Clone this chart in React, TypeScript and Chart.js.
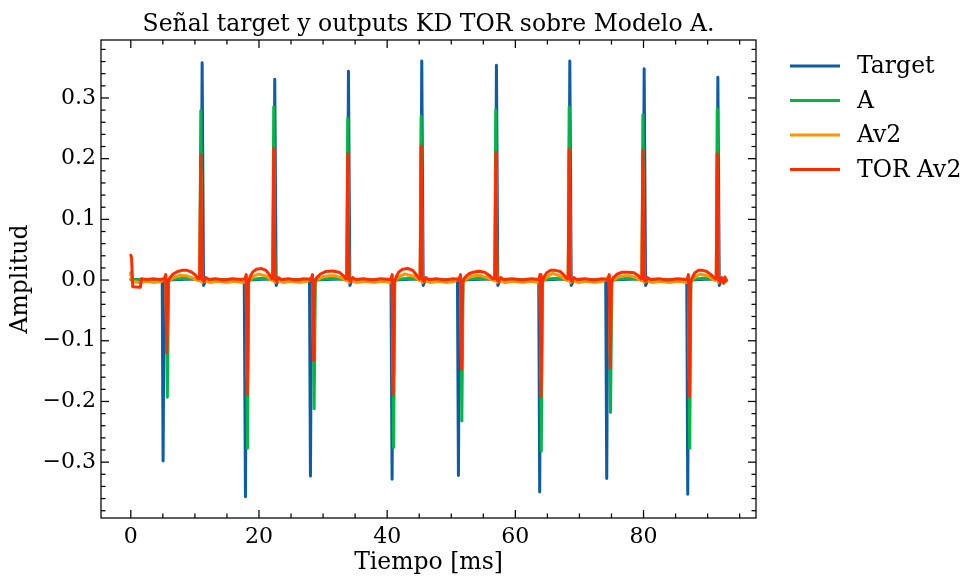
import React, { useEffect, useRef } from 'react';
import { Chart, registerables } from 'chart.js';

Chart.register(...registerables);

const titleText = 'Señal target y outputs KD TOR sobre Modelo A.';
const xTitle = 'Tiempo [ms]';
const yTitle = 'Amplitud';

const seriesLabels = ['Target', 'A', 'Av2', 'TOR Av2'];
const seriesColors = ['#0C5DA5', '#00B945', '#FF9500', '#FF2C00'];

const xMajorTicks = [0, 20, 40, 60, 80];
const yMajorTicks = [-0.3, -0.2, -0.1, 0.0, 0.1, 0.2, 0.3];

// [time ms, amplitude]
const target: [number, number][] = [
  [0, 0.001], [4.9, 0], [5.04, -0.298], [5.2, 0],
  [10.95, 0.002], [11.13, 0.358], [11.35, -0.009], [11.6, -0.002], [12, 0],
  [17.7, 0], [17.89, -0.357], [18.05, 0],
  [22.3, 0.002], [22.46, 0.331], [22.68, -0.009], [22.95, -0.002], [23.3, 0],
  [27.88, 0], [28.03, -0.323], [28.2, 0],
  [33.8, 0.002], [33.96, 0.344], [34.18, -0.009], [34.45, -0.002], [34.8, 0],
  [40.6, 0], [40.77, -0.328], [40.93, 0],
  [45.22, 0.002], [45.4, 0.361], [45.62, -0.009], [45.9, -0.002], [46.2, 0],
  [50.97, 0], [51.12, -0.322], [51.28, 0],
  [56.88, 0.002], [57.05, 0.354], [57.27, -0.009], [57.55, -0.002], [57.9, 0],
  [63.65, 0], [63.8, -0.349], [63.96, 0],
  [68.33, 0.002], [68.5, 0.361], [68.72, -0.009], [69.0, -0.002], [69.3, 0],
  [74.1, 0], [74.26, -0.327], [74.42, 0],
  [79.93, 0.002], [80.1, 0.348], [80.32, -0.009], [80.6, -0.002], [80.9, 0],
  [86.75, 0], [86.9, -0.353], [87.06, 0],
  [91.43, 0.002], [91.6, 0.334], [91.82, -0.009], [92.1, -0.002], [92.9, 0],
];

const modelA: [number, number][] = [
  [0, 0.012], [0.25, 0.001], [5.5, 0.0], [5.7, -0.193], [5.9, -0.002], [6.3, 0.001], [8.4, 0.003], [10.4, 0.001], [10.75, 0.001],
  [10.92, 0.279], [11.12, -0.001], [11.5, 0.0],
  [18.05, 0.0], [18.2, -0.277], [18.4, -0.002], [18.8, 0.001], [20.4, 0.003], [22.0, 0.001], [22.15, 0.001],
  [22.3, 0.285], [22.5, -0.001], [22.9, 0.0],
  [28.45, 0.0], [28.6, -0.212], [28.8, -0.002], [29.2, 0.001], [31.5, 0.003], [33.5, 0.001], [33.7, 0.001],
  [33.85, 0.266], [34.05, -0.001], [34.4, 0.0],
  [40.85, 0.0], [41.0, -0.276], [41.2, -0.002], [41.6, 0.001], [43.2, 0.003], [45.0, 0.001], [45.15, 0.001],
  [45.3, 0.27], [45.5, -0.001], [45.9, 0.0],
  [51.5, 0.0], [51.65, -0.232], [51.85, -0.002], [52.3, 0.001], [54.3, 0.003], [56.6, 0.001], [56.8, 0.001],
  [56.95, 0.28], [57.15, -0.001], [57.5, 0.0],
  [63.9, 0.0], [64.05, -0.282], [64.25, -0.002], [64.6, 0.001], [66.2, 0.003], [68.1, 0.001], [68.25, 0.001],
  [68.4, 0.285], [68.6, -0.001], [69.0, 0.0],
  [74.7, 0.0], [74.85, -0.218], [75.05, -0.002], [75.5, 0.001], [77.6, 0.003], [79.6, 0.001], [79.75, 0.001],
  [79.9, 0.272], [80.1, -0.001], [80.5, 0.0],
  [87.05, 0.0], [87.2, -0.277], [87.4, -0.002], [87.8, 0.001], [89.2, 0.003], [91.2, 0.001], [91.35, 0.001],
  [91.5, 0.282], [91.7, -0.001], [92.9, 0.0],
];

const modelAv2: [number, number][] = [
  [0, 0.01], [0.2, -0.002], [1.2, -0.004], [2.4, -0.002], [3.6, -0.004], [4.8, -0.002],
  [5.45, 0.007], [5.6, -0.1], [5.8, -0.004], [6.2, 0.001], [6.9, 0.005], [7.8, 0.008], [8.7, 0.007], [9.5, 0.004], [10.3, 0.0], [10.75, -0.001],
  [10.92, 0.18], [11.1, -0.004], [11.5, -0.001], [12.4, -0.004], [13.6, -0.002], [14.9, -0.004], [16.2, -0.002], [17.5, -0.004],
  [18.0, 0.007], [18.15, -0.16], [18.35, -0.004], [18.7, 0.002], [19.3, 0.007], [20.0, 0.01], [20.6, 0.008], [21.3, 0.006], [21.9, 0.0], [22.15, -0.001],
  [22.3, 0.19], [22.48, -0.004], [22.9, -0.001], [23.8, -0.004], [25.0, -0.002], [26.3, -0.004], [27.6, -0.002],
  [28.35, 0.007], [28.5, -0.115], [28.7, -0.004], [29.1, 0.001], [29.9, 0.005], [30.9, 0.007], [31.9, 0.007], [32.8, 0.004], [33.5, 0.0], [33.7, -0.001],
  [33.85, 0.18], [34.03, -0.004], [34.4, -0.001], [35.3, -0.004], [36.6, -0.002], [37.9, -0.004], [39.3, -0.002], [40.5, -0.004],
  [40.78, 0.007], [40.93, -0.16], [41.13, -0.004], [41.5, 0.002], [42.1, 0.007], [42.8, 0.01], [43.5, 0.008], [44.2, 0.006], [44.9, 0.0], [45.15, -0.001],
  [45.3, 0.19], [45.48, -0.004], [45.9, -0.001], [46.8, -0.004], [48.0, -0.002], [49.3, -0.004], [50.6, -0.002],
  [51.45, 0.007], [51.6, -0.125], [51.8, -0.004], [52.2, 0.001], [52.9, 0.005], [53.8, 0.008], [54.7, 0.007], [55.6, 0.004], [56.5, 0.0], [56.8, -0.001],
  [56.95, 0.185], [57.13, -0.004], [57.5, -0.001], [58.4, -0.004], [59.7, -0.002], [61.1, -0.004], [62.5, -0.002], [63.6, -0.004],
  [63.85, 0.007], [64.0, -0.165], [64.2, -0.004], [64.6, 0.002], [65.2, 0.007], [65.8, 0.011], [66.4, 0.009], [67.1, 0.006], [67.9, 0.0], [68.25, -0.001],
  [68.4, 0.188], [68.58, -0.004], [69.0, -0.001], [69.9, -0.004], [71.1, -0.002], [72.4, -0.004], [73.7, -0.002],
  [74.65, 0.007], [74.8, -0.125], [75.0, -0.004], [75.4, 0.001], [76.1, 0.005], [77.0, 0.007], [77.9, 0.007], [78.8, 0.004], [79.5, 0.0], [79.75, -0.001],
  [79.9, 0.185], [80.08, -0.004], [80.5, -0.001], [81.4, -0.004], [82.7, -0.002], [84.0, -0.004], [85.4, -0.002], [86.8, -0.004],
  [87.0, 0.007], [87.15, -0.165], [87.35, -0.004], [87.7, 0.002], [88.3, 0.007], [88.9, 0.01], [89.5, 0.008], [90.2, 0.006], [91.0, 0.0], [91.35, -0.001],
  [91.5, 0.182], [91.68, -0.004], [92.0, -0.001], [92.4, -0.005], [92.9, -0.002],
];

const torAv2: [number, number][] = [
  [0, 0.041], [0.12, 0.036], [0.3, -0.011], [1.5, -0.012], [1.65, 0.002], [2.5, 0.001], [3.5, 0.002], [4.5, 0.001], [5.3, 0.002],
  [5.45, 0.009], [5.6, -0.12], [5.8, -0.004], [6.1, 0.004], [6.6, 0.01], [7.3, 0.014], [8.0, 0.016], [8.8, 0.016], [9.5, 0.013], [10.1, 0.008], [10.5, 0.002], [10.75, 0.003],
  [10.92, 0.206], [11.1, 0.002], [11.4, -0.002], [11.7, 0.004], [12.2, 0.001], [13.2, 0.002], [14.5, 0.0], [15.8, 0.002], [17.2, 0.001], [17.9, 0.002],
  [18.0, 0.009], [18.15, -0.188], [18.35, -0.004], [18.6, 0.005], [19.0, 0.013], [19.6, 0.018], [20.4, 0.019], [21.1, 0.016], [21.7, 0.008], [22.05, 0.002], [22.15, 0.003],
  [22.3, 0.217], [22.48, 0.001], [22.75, -0.002], [23.0, 0.004], [23.5, 0.001], [24.6, 0.002], [25.8, 0.0], [27.0, 0.002], [28.2, 0.001],
  [28.35, 0.009], [28.5, -0.133], [28.7, -0.004], [29.0, 0.004], [29.6, 0.01], [30.4, 0.014], [31.5, 0.015], [32.5, 0.013], [33.2, 0.007], [33.55, 0.002], [33.7, 0.003],
  [33.85, 0.208], [34.03, 0.001], [34.3, -0.002], [34.6, 0.004], [35.1, 0.001], [36.3, 0.002], [37.6, 0.0], [39.0, 0.002], [40.6, 0.001],
  [40.78, 0.009], [40.93, -0.188], [41.13, -0.004], [41.4, 0.005], [41.8, 0.013], [42.4, 0.018], [43.2, 0.019], [44.0, 0.016], [44.6, 0.008], [45.0, 0.002], [45.15, 0.003],
  [45.3, 0.221], [45.48, 0.001], [45.75, -0.002], [46.0, 0.004], [46.5, 0.001], [47.7, 0.002], [49.0, 0.0], [50.3, 0.002], [51.3, 0.001],
  [51.45, 0.009], [51.6, -0.147], [51.8, -0.004], [52.1, 0.004], [52.7, 0.01], [53.4, 0.013], [54.3, 0.0145], [55.2, 0.013], [55.9, 0.008], [56.5, 0.002], [56.8, 0.003],
  [56.95, 0.21], [57.13, 0.001], [57.4, -0.002], [57.7, 0.004], [58.2, 0.001], [59.5, 0.002], [61.0, 0.0], [62.5, 0.002], [63.7, 0.001],
  [63.85, 0.009], [64.0, -0.192], [64.2, -0.004], [64.45, 0.005], [64.9, 0.012], [65.5, 0.016], [66.2, 0.016], [67.0, 0.014], [67.6, 0.008], [68.1, 0.002], [68.25, 0.003],
  [68.4, 0.215], [68.58, 0.001], [68.85, -0.002], [69.1, 0.004], [69.6, 0.001], [70.8, 0.002], [72.2, 0.0], [73.5, 0.002], [74.5, 0.001],
  [74.65, 0.009], [74.8, -0.145], [75.0, -0.004], [75.3, 0.004], [75.9, 0.01], [76.7, 0.013], [77.6, 0.013], [78.5, 0.012], [79.2, 0.007], [79.6, 0.002], [79.75, 0.003],
  [79.9, 0.214], [80.08, 0.001], [80.35, -0.002], [80.6, 0.004], [81.1, 0.001], [82.4, 0.002], [83.8, 0.0], [85.3, 0.002], [86.85, 0.001],
  [87.0, 0.009], [87.15, -0.192], [87.35, -0.004], [87.6, 0.004], [88.0, 0.012], [88.6, 0.016], [89.2, 0.016], [89.9, 0.014], [90.6, 0.008], [91.2, 0.002], [91.35, 0.003],
  [91.5, 0.208], [91.68, 0.001], [91.95, -0.003], [92.2, 0.004], [92.5, -0.005], [92.7, 0.005], [92.9, -0.001],
];

const seriesData = [target, modelA, modelAv2, torAv2];

const FONT = '"DejaVu Serif", serif';
const TICK_SIZE = 22;
const TEXT_SIZE = 23.5;

export default function App() {
  const ref = useRef<HTMLCanvasElement>(null);

  useEffect(() => {
    const canvas = ref.current;
    if (!canvas) return;

    const decorPlugin = {
      id: 'decor',
      afterDraw(chart: any) {
        const { ctx, chartArea: a, scales } = chart;
        const xs = scales.x;
        const ys = scales.y;
        ctx.save();
        ctx.strokeStyle = '#000';
        ctx.lineWidth = 1.25;
        const seg = (x1: number, y1: number, x2: number, y2: number) => {
          ctx.beginPath();
          ctx.moveTo(x1, y1);
          ctx.lineTo(x2, y2);
          ctx.stroke();
        };
        const MAJ = 8;
        const MIN = 4.5;
        // x ticks (minor every 5, major every 20)
        for (let v = -5; v <= 100; v += 5) {
          if (v < xs.min || v > xs.max) continue;
          const px = xs.getPixelForValue(v);
          const len = xMajorTicks.includes(v) ? MAJ : MIN;
          seg(px, a.bottom, px, a.bottom - len);
          seg(px, a.top, px, a.top + len);
        }
        // y ticks (minor every 0.02)
        for (let i = -20; i <= 20; i++) {
          const v = i * 0.02;
          if (v < ys.min || v > ys.max) continue;
          const py = ys.getPixelForValue(v);
          const len = i % 5 === 0 ? MAJ : MIN;
          seg(a.left, py, a.left + len, py);
          seg(a.right, py, a.right - len, py);
        }
        // frame
        ctx.strokeRect(a.left, a.top, a.right - a.left, a.bottom - a.top);

        // texts
        ctx.fillStyle = '#000';
        ctx.font = `${TEXT_SIZE}px ${FONT}`;
        ctx.textAlign = 'center';
        ctx.textBaseline = 'alphabetic';
        ctx.fillText(titleText, (a.left + a.right) / 2, 31);
        ctx.fillText(xTitle, (a.left + a.right) / 2, 569);
        ctx.save();
        ctx.translate(27, (a.top + a.bottom) / 2);
        ctx.rotate(-Math.PI / 2);
        ctx.fillText(yTitle, 0, 0);
        ctx.restore();

        // legend
        ctx.textAlign = 'left';
        ctx.textBaseline = 'middle';
        seriesLabels.forEach((lab, i) => {
          const y = 66 + i * 34.5;
          ctx.strokeStyle = seriesColors[i];
          ctx.lineWidth = 3;
          seg(790, y, 840, y);
          ctx.fillStyle = '#000';
          ctx.fillText(lab, 857, y + 1);
        });
        ctx.restore();
      },
    };

    const fmtY = (v: number) => {
      const r = Math.round(v * 10) / 10;
      if (Math.abs(r) < 1e-9) return '0.0';
      return (r < 0 ? '\u2212' : '') + Math.abs(r).toFixed(1);
    };

    const chart = new Chart(canvas, {
      type: 'line',
      data: {
        datasets: seriesData.map((d, i) => ({
          label: seriesLabels[i],
          data: d.map(([x, y]) => ({ x, y })),
          borderColor: seriesColors[i],
          backgroundColor: seriesColors[i],
          borderWidth: 3,
          pointRadius: 0,
          tension: 0,
          fill: false,
          order: 4 - i,
          borderJoinStyle: 'round',
          borderCapStyle: 'round',
        })),
      },
      options: {
        responsive: false,
        animation: false,
        events: [],
        layout: { padding: { left: 0, top: 40, right: 206, bottom: 0 } },
        plugins: {
          legend: { display: false },
          title: { display: false },
          tooltip: { enabled: false },
        },
        scales: {
          x: {
            type: 'linear',
            min: -4.65,
            max: 97.55,
            grid: { display: false, drawTicks: false },
            border: { display: false },
            ticks: {
              stepSize: 20,
              includeBounds: false,
              autoSkip: false,
              maxRotation: 0,
              padding: 6,
              color: '#000',
              font: { family: FONT, size: TICK_SIZE },
              callback: (v: any) => String(v),
            },
            afterFit: (s: any) => {
              s.height = 58;
            },
          },
          y: {
            type: 'linear',
            min: -0.392,
            max: 0.3955,
            grid: { display: false, drawTicks: false },
            border: { display: false },
            ticks: {
              stepSize: 0.1,
              includeBounds: false,
              autoSkip: false,
              padding: 5,
              color: '#000',
              font: { family: FONT, size: TICK_SIZE },
              callback: (v: any) => fmtY(Number(v)),
            },
            afterFit: (s: any) => {
              s.width = 101;
            },
          },
        },
      },
      plugins: [decorPlugin],
    } as any);

    return () => chart.destroy();
  }, []);

  return (
    <div style={{ position: 'absolute', left: 0, top: 0, width: 962, height: 576, background: '#fff' }}>
      <canvas ref={ref} width={962} height={576} style={{ display: 'block' }} />
    </div>
  );
}
